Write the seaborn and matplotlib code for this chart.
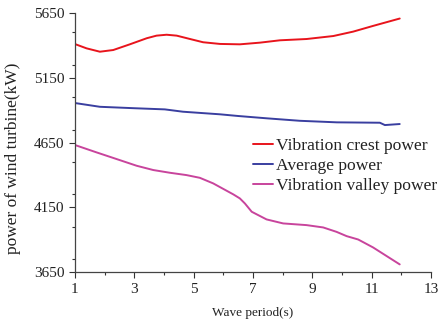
import matplotlib
matplotlib.use("Agg")
import matplotlib.pyplot as plt
import seaborn as sns
import pandas as pd
from matplotlib.ticker import MultipleLocator

crest_x = [1.0, 1.39, 1.84, 2.29, 2.85, 3.42, 3.75, 4.09, 4.43, 4.88, 5.32, 5.89, 6.56,
           7.24, 7.91, 8.81, 9.71, 10.38, 11.05, 11.95]
crest_y = [5410, 5377, 5351, 5364, 5408, 5455, 5475, 5482, 5475, 5449, 5424, 5411, 5408,
           5421, 5439, 5449, 5472, 5506, 5550, 5607]

avg_x = [1.0, 1.84, 3.0, 4.03, 4.64, 5.89, 6.5, 7.47, 8.58, 9.83, 11.28, 11.45, 11.95]
avg_y = [4955, 4926, 4915, 4906, 4888, 4868, 4855, 4837, 4818, 4806, 4803, 4785, 4793]

valley_x = [1.0, 1.73, 2.40, 3.08, 3.64, 4.20, 4.76, 5.21, 5.66, 6.34, 6.56, 6.73, 6.96,
            7.46, 8.02, 8.81, 9.37, 9.82, 10.16, 10.55, 11.05, 11.95]
valley_y = [4631, 4574, 4523, 4471, 4438, 4417, 4399, 4378, 4335, 4250, 4219, 4180, 4116,
            4057, 4026, 4013, 3995, 3961, 3928, 3902, 3841, 3710]

series_names = ["Vibration crest power", "Average power", "Vibration valley power"]
colors = ["#e8141c", "#3a3fa0", "#c8449c"]

x_ticks = [1, 3, 5, 7, 9, 11, 13]
y_ticks = [3650, 4150, 4650, 5150, 5650]

df = pd.concat([
    pd.DataFrame({"x": crest_x, "y": crest_y, "s": series_names[0]}),
    pd.DataFrame({"x": avg_x, "y": avg_y, "s": series_names[1]}),
    pd.DataFrame({"x": valley_x, "y": valley_y, "s": series_names[2]}),
])

sns.set_style("ticks")
plt.rcParams["font.family"] = ["Liberation Serif", "DejaVu Serif"]

fig = plt.figure(figsize=(4.41, 3.24), dpi=100)
ax = fig.add_axes([0.170, 0.160, 0.807, 0.800])
sns.lineplot(data=df, x="x", y="y", hue="s", palette=dict(zip(series_names, colors)),
             sort=False, estimator=None, linewidth=1.4, ax=ax, legend=True)
for ln in ax.get_lines():
    ln.set_solid_joinstyle("round")

ax.set_xlim(1, 13)
ax.set_ylim(3650, 5650)
ax.set_xticks(x_ticks)
ax.set_yticks(y_ticks)
ax.xaxis.set_minor_locator(MultipleLocator(1))
ax.yaxis.set_minor_locator(MultipleLocator(250))
ax.tick_params(axis="both", which="major", direction="out", length=4, width=0.8,
               labelsize=11, colors="#333333", labelcolor="#222222")
ax.tick_params(axis="both", which="minor", direction="out", length=2.5, width=0.8, colors="#333333")
for sp in ["top", "right"]:
    ax.spines[sp].set_visible(False)
for sp in ["left", "bottom"]:
    ax.spines[sp].set_color("#444444")
    ax.spines[sp].set_linewidth(0.9)

ax.set_xlabel("Wave period(s)", fontsize=9.5, labelpad=8, color="#222222")
ax.set_ylabel("power of wind turbine(kW)", fontsize=12.5, color="#222222")
ax.yaxis.set_label_coords(-0.152, 0.44)

leg = ax.legend(loc="upper left", bbox_to_anchor=(0.48, 0.545), frameon=False,
                fontsize=12.6, handlelength=1.15, handletextpad=0.17, labelspacing=0.2,
                borderaxespad=0)
for t in leg.get_texts():
    t.set_color("#222222")

fig.savefig("out.png", dpi=100)
